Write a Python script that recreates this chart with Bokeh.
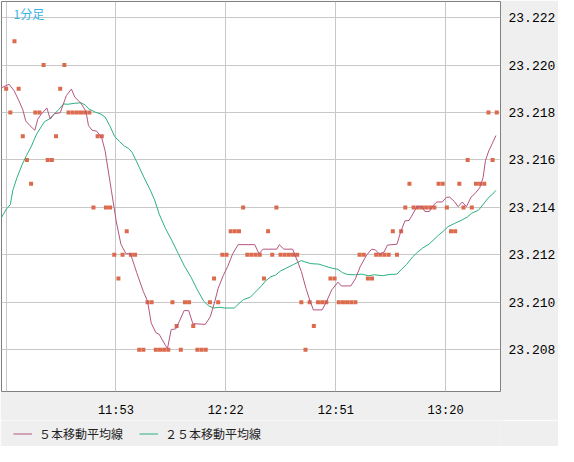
from bokeh.plotting import figure
from bokeh.layouts import column
from bokeh.models import (Range1d, FixedTicker, NumeralTickFormatter, Legend,
                          LegendItem, Label, ColumnDataSource)
from bokeh.embed import file_html
from bokeh.resources import INLINE

# ---- data -------------------------------------------------------------
# bar index (1-minute bars) and close price of each bar
bars = list(range(1, 120))
close = [
    23.219, 23.218, 23.221, 23.219, 23.217, 23.216, 23.215, 23.218, 23.218, 23.220,
    23.216, 23.216, 23.217, 23.219, 23.220, 23.218, 23.218, 23.218, 23.218, 23.218,
    23.218, 23.214, 23.217, 23.217, 23.214, 23.214, 23.212, 23.211, 23.212, 23.213,
    23.212, 23.212, 23.208, 23.208, 23.210, 23.210, 23.208, 23.208, 23.208, 23.208,
    23.210, 23.209, 23.208, 23.210, 23.210, 23.209, 23.208, 23.208, 23.208, 23.210,
    23.211, 23.210, 23.212, 23.212, 23.213, 23.213, 23.213, 23.214, 23.212, 23.212,
    23.212, 23.212, 23.211, 23.213, 23.212, 23.214, 23.212, 23.212, 23.212, 23.212,
    23.212, 23.210, 23.208, 23.210, 23.209, 23.210, 23.210, 23.210, 23.211, 23.211,
    23.210, 23.210, 23.210, 23.210, 23.210, 23.212, 23.212, 23.211, 23.211, 23.212,
    23.212, 23.212, 23.212, 23.213, 23.212, 23.213, 23.214, 23.215, 23.214, 23.214,
    23.214, 23.214, 23.214, 23.214, 23.215, 23.215, 23.214, 23.213, 23.213, 23.215,
    23.214, 23.216, 23.214, 23.215, 23.215, 23.215, 23.218, 23.216, 23.218,
]

# 5-bar moving average (bar position, price)
ma5_bar = [-0.3, 1.7, 2.9, 4.0, 5.0, 5.7, 6.7, 7.9, 8.6, 9.4, 10.8, 11.6, 12.6, 14.0,
           15.5, 16.7, 17.5, 19.0, 20.2, 20.8, 21.7, 22.8, 24.0, 24.8, 25.1, 26.3,
           27.5, 28.6, 29.8, 30.9, 32.4, 34.0, 35.0, 35.9, 37.0, 37.8, 39.3, 39.8,
           40.7, 41.8, 42.8, 43.8, 44.9, 45.9, 48.9, 50.1, 51.2, 52.0, 53.2, 54.3,
           55.5, 56.8, 60.8, 61.8, 62.8, 66.1, 66.7, 67.8, 69.9, 71.1, 72.0, 73.1,
           74.1, 74.9, 77.0, 78.1, 79.3, 80.8, 81.6, 83.9, 85.0, 86.2, 87.7, 88.9,
           89.8, 90.8, 91.9, 92.7, 95.0, 95.8, 96.9, 97.9, 98.8, 99.8, 101.0, 101.7,
           102.8, 103.7, 104.6, 105.9, 106.9, 107.7, 108.8, 109.7, 110.7, 111.7,
           112.8, 113.8, 114.9, 115.7, 116.3, 117.1, 118.0, 118.8]
ma5_val = [23.21903, 23.21919, 23.21892, 23.21852, 23.21812, 23.21765, 23.21745,
           23.21725, 23.21772, 23.21792, 23.21819, 23.21772, 23.21795, 23.21799,
           23.21872, 23.21899, 23.21865, 23.21839, 23.21805, 23.21745, 23.21725,
           23.21721, 23.21692, 23.21639, 23.21605, 23.21472, 23.21339, 23.21245,
           23.21205, 23.21205, 23.21125, 23.21045, 23.21005, 23.20912, 23.20872,
           23.20865, 23.20819, 23.20805, 23.20885, 23.20888, 23.20925, 23.20965,
           23.20965, 23.20910, 23.20907, 23.20939, 23.21005, 23.21059, 23.21112,
           23.21152, 23.21205, 23.21243, 23.21243, 23.21205, 23.21224, 23.21224,
           23.21243, 23.21224, 23.21224, 23.21172, 23.21130, 23.21059, 23.21005,
           23.20968, 23.20968, 23.21005, 23.21052, 23.21085, 23.21069, 23.21069,
           23.21099, 23.21152, 23.21199, 23.21224, 23.21221, 23.21203, 23.21212,
           23.21241, 23.21245, 23.21292, 23.21343, 23.21345, 23.21372, 23.21403,
           23.21403, 23.21383, 23.21383, 23.21408, 23.21423, 23.21423, 23.21443,
           23.21443, 23.21425, 23.21403, 23.21423, 23.21403, 23.21443, 23.21459,
           23.21483, 23.21525, 23.21599, 23.21639, 23.21672, 23.21703]

# 25-bar moving average (bar position, price)
ma25_bar = [-0.3, 1.0, 2.0, 2.6, 3.6, 4.8, 5.9, 7.1, 8.2, 9.4, 10.2, 11.3, 12.5, 13.6,
            14.8, 15.9, 17.5, 19.0, 20.0, 20.9, 22.5, 23.6, 24.8, 25.9, 27.1, 28.2,
            29.4, 30.5, 31.3, 32.4, 34.0, 35.5, 36.7, 37.8, 39.3, 40.9, 42.4, 43.9,
            45.5, 47.0, 48.5, 49.7, 50.9, 52.4, 53.5, 55.9, 57.0, 58.1, 59.7, 61.2,
            62.4, 63.5, 64.7, 65.8, 67.0, 68.5, 70.1, 72.0, 73.1, 74.3, 76.2, 77.3,
            78.5, 79.6, 80.8, 81.9, 83.1, 85.0, 86.5, 88.1, 89.6, 91.5, 93.1, 95.0,
            96.1, 97.3, 98.8, 100.0, 101.2, 102.7, 105.0, 106.1, 107.3, 108.8, 110.4,
            111.9, 113.0, 114.6, 115.7, 116.9, 118.0, 118.8]
ma25_val = [23.21352, 23.21392, 23.21412, 23.21472, 23.21525, 23.21579, 23.21619,
            23.21659, 23.21705, 23.21739, 23.21761, 23.21772, 23.21792, 23.21812,
            23.21836, 23.21835, 23.21839, 23.21841, 23.21832, 23.21815, 23.21801,
            23.21795, 23.21781, 23.21745, 23.21699, 23.21679, 23.21659, 23.21648,
            23.21632, 23.21592, 23.21532, 23.21479, 23.21432, 23.21372, 23.21312,
            23.21259, 23.21205, 23.21152, 23.21105, 23.21052, 23.21005, 23.20985,
            23.20976, 23.20979, 23.20976, 23.20976, 23.20995, 23.21012, 23.21021,
            23.21048, 23.21069, 23.21092, 23.21108, 23.21115, 23.21132, 23.21145,
            23.21159, 23.21176, 23.21169, 23.21163, 23.21161, 23.21155, 23.21148,
            23.21143, 23.21139, 23.21125, 23.21117, 23.21116, 23.21119, 23.21112,
            23.21116, 23.21112, 23.21117, 23.21119, 23.21139, 23.21159, 23.21192,
            23.21212, 23.21229, 23.21245, 23.21283, 23.21299, 23.21319, 23.21332,
            23.21345, 23.21359, 23.21376, 23.21388, 23.21412, 23.21439, 23.21456,
            23.21472]

# axis ticks
time_tick_bars = [1.0, 27.4, 53.8, 80.3, 106.7]
time_tick_labels = ["", "11:53", "12:22", "12:51", "13:20"]
price_ticks = [23.208, 23.210, 23.212, 23.214, 23.216, 23.218, 23.220, 23.222]
legend_labels = ["５本移動平均線", "２５本移動平均線"]

# ---- styles -----------------------------------------------------------
DOT = "#dc6a4c"
MA5 = "#b4557f"
MA25 = "#2cb07e"
GRID = "#c8c8c8"
PANEL = "#efefef"
MONO = "'Liberation Mono', 'DejaVu Sans Mono', monospace"
CJK = "'Noto Sans CJK JP', sans-serif"

p = figure(width=558, height=420, output_backend="svg", toolbar_location=None,
           x_range=Range1d(-0.12, 119.9), y_range=Range1d(23.20624, 23.22268),
           y_axis_location="right",
           min_border_left=1, min_border_top=1, min_border_right=0, min_border_bottom=22,
           background_fill_color="white", border_fill_color=PANEL,
           outline_line_color="#808080", outline_line_width=1)

# grid
p.xgrid.ticker = FixedTicker(ticks=time_tick_bars)
p.ygrid.ticker = FixedTicker(ticks=price_ticks)
for g in (p.xgrid, p.ygrid):
    g.grid_line_color = GRID
    g.grid_line_width = 1

# y axis (right)
ya = p.yaxis[0]
ya.ticker = FixedTicker(ticks=price_ticks)
ya.formatter = NumeralTickFormatter(format="0.000")
ya.major_label_text_font = MONO
ya.major_label_text_font_size = "13px"
ya.major_label_text_color = "black"
ya.major_label_standoff = 2
ya.major_tick_line_color = None
ya.minor_tick_line_color = None
ya.axis_line_color = None

# x axis (below)
xa = p.xaxis[0]
xa.ticker = FixedTicker(ticks=time_tick_bars)
xa.major_label_overrides = {t: l for t, l in zip(time_tick_bars, time_tick_labels)}
xa.major_label_text_font = MONO
xa.major_label_text_font_size = "12px"
xa.major_label_text_color = "black"
xa.major_label_standoff = 6
xa.major_tick_line_color = None
xa.minor_tick_line_color = None
xa.axis_line_color = None

# marks
src = ColumnDataSource(dict(bar=bars, close=close))
p.scatter("bar", "close", source=src, marker="square", size=4,
          fill_color=DOT, line_color=None)
p.line(ma25_bar, ma25_val, line_color=MA25, line_width=1)
p.line(ma5_bar, ma5_val, line_color=MA5, line_width=1)

# title inside plot
p.add_layout(Label(x=-0.12, y=23.22268, x_offset=12, y_offset=-3,
                   text="1分足", text_baseline="top",
                   text_font=CJK, text_font_size="12px",
                   text_color="#36b4e8"))

# legend strip under the chart (its own lines fall outside its empty ranges)
lg = figure(width=558, height=26, output_backend="svg", toolbar_location=None,
            x_range=Range1d(200, 201), y_range=Range1d(0, 1),
            min_border_left=0, min_border_top=0, min_border_right=0, min_border_bottom=0,
            background_fill_color=PANEL, border_fill_color=PANEL,
            outline_line_color=None)
lg.xaxis.visible = False
lg.yaxis.visible = False
lg.grid.visible = False
k5 = lg.line(ma5_bar, ma5_val, line_color=MA5, line_width=1)
k25 = lg.line(ma25_bar, ma25_val, line_color=MA25, line_width=1)
legend = Legend(items=[LegendItem(label=legend_labels[0], renderers=[k5]),
                       LegendItem(label=legend_labels[1], renderers=[k25])],
                orientation="horizontal", location="left",
                background_fill_alpha=0, border_line_color=None,
                label_text_font=CJK, label_text_font_size="12px",
                label_text_color="#222222",
                glyph_width=19, glyph_height=12, label_standoff=7, spacing=16,
                padding=2, margin=12)
lg.add_layout(legend, "center")

open("out.html", "w").write(file_html(column(p, lg, spacing=0), INLINE))
